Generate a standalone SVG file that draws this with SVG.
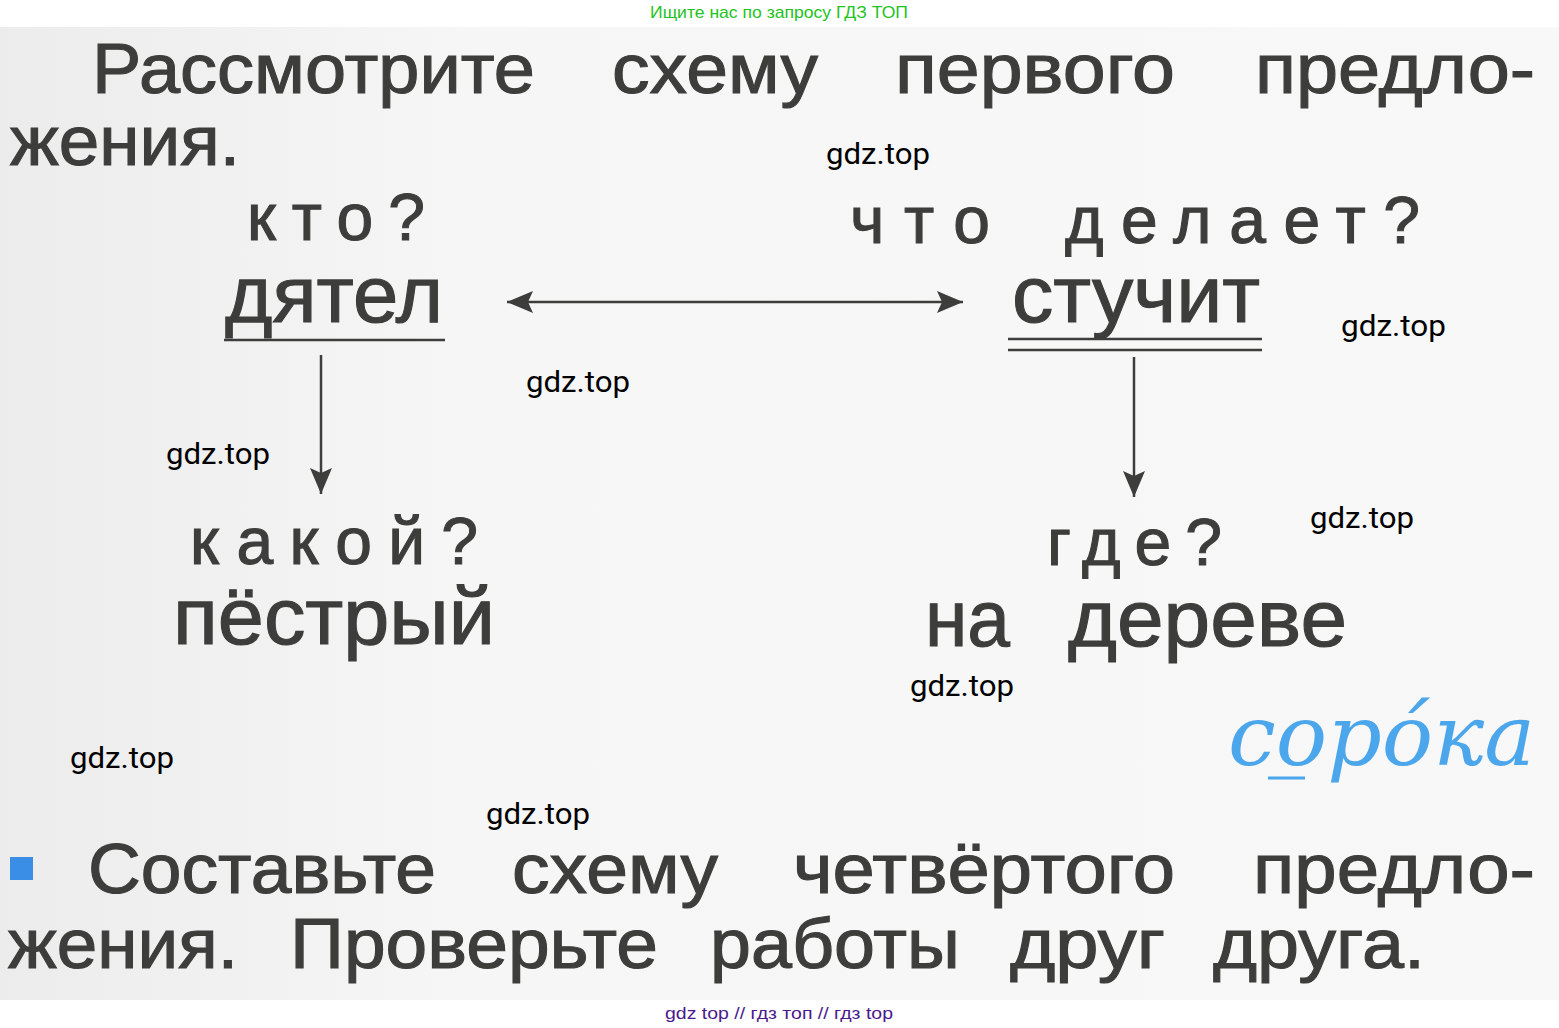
<svg xmlns="http://www.w3.org/2000/svg" width="1559" height="1028" viewBox="0 0 1559 1028">
  <style>
    .t { font-family: "Liberation Sans", Arial, sans-serif; fill: #3d3d3b; stroke: #3d3d3b; stroke-width: 1.1; }
    .big { font-size: 70px; }
    .word { font-size: 80px; }
    .q { font-size: 66px; }
    .wm { font-family: Roboto, "Liberation Sans", sans-serif; font-size: 30px; fill: #000; }
    .ln { stroke: #3d3d3b; stroke-width: 2.5; fill: none; }
  </style>
  <defs>
    <linearGradient id="page" x1="0" y1="0" x2="1" y2="0">
      <stop offset="0" stop-color="#ececec"/>
      <stop offset="0.3" stop-color="#f6f6f6"/>
      <stop offset="1" stop-color="#f8f8f8"/>
    </linearGradient>
    <marker id="ah" viewBox="0 0 26 22" refX="26" refY="11" markerWidth="26" markerHeight="22" markerUnits="userSpaceOnUse" orient="auto-start-reverse">
      <path d="M0,0 L26,11 L0,22 L5,11 Z" fill="#3d3d3b"/>
    </marker>
  </defs>
  <rect width="1559" height="1028" fill="#ffffff"/>
  <rect x="0" y="27" width="1559" height="973" fill="url(#page)"/>

  <text x="779" y="18" font-family="'Liberation Sans Narrow', 'Liberation Sans', sans-serif" font-size="17" fill="#22c322" text-anchor="middle" textLength="258" lengthAdjust="spacingAndGlyphs">Ищите нас по запросу ГДЗ ТОП</text>

  <g id="intro">
    <text class="t big" x="92" y="93" textLength="443" lengthAdjust="spacingAndGlyphs">Рассмотрите</text>
    <text class="t big" x="612" y="93" textLength="206" lengthAdjust="spacingAndGlyphs">схему</text>
    <text class="t big" x="895" y="93" textLength="280" lengthAdjust="spacingAndGlyphs">первого</text>
    <text class="t big" x="1255" y="93" textLength="280" lengthAdjust="spacingAndGlyphs">предло-</text>
    <text class="t big" x="10" y="165" textLength="230" lengthAdjust="spacingAndGlyphs">жения.</text>
  </g>

  <g id="node-subject">
    <text class="t q" x="247" y="240" textLength="178">кто?</text>
    <text class="t word" x="225" y="322" textLength="218" lengthAdjust="spacingAndGlyphs">дятел</text>
    <line class="ln" x1="224" y1="340" x2="445" y2="340"/>
  </g>

  <g id="node-predicate">
    <text class="t q" x="850" y="243" textLength="140">что</text>
    <text class="t q" x="1065" y="243" textLength="355">делает?</text>
    <text class="t word" x="1012" y="322" textLength="248" lengthAdjust="spacingAndGlyphs">стучит</text>
    <line class="ln" x1="1008" y1="339" x2="1262" y2="339"/>
    <line class="ln" x1="1008" y1="350" x2="1262" y2="350"/>
  </g>

  <g id="node-attribute">
    <text class="t q" x="190" y="564" textLength="288">какой?</text>
    <text class="t word" x="173" y="644" textLength="322" lengthAdjust="spacingAndGlyphs">пёстрый</text>
  </g>

  <g id="node-adverbial">
    <text class="t q" x="1047" y="565" textLength="175">где?</text>
    <text class="t word" x="925" y="646" textLength="85" lengthAdjust="spacingAndGlyphs">на</text>
    <text class="t word" x="1068" y="646" textLength="279" lengthAdjust="spacingAndGlyphs">дереве</text>
  </g>

  <g id="connectors">
    <line class="ln" x1="507" y1="302" x2="963" y2="302" marker-start="url(#ah)" marker-end="url(#ah)"/>
    <line class="ln" x1="321" y1="355" x2="321" y2="494" marker-end="url(#ah)"/>
    <line class="ln" x1="1134" y1="357" x2="1134" y2="497" marker-end="url(#ah)"/>
  </g>

  <g id="soroka">
    <text x="1228" y="765" font-family="'DejaVu Serif', 'Liberation Serif', serif" font-style="italic" font-size="84" fill="#4ba6ec" textLength="307" lengthAdjust="spacingAndGlyphs">сорóка</text>
    <line x1="1268" y1="778" x2="1305" y2="778" stroke="#4ba6ec" stroke-width="3"/>
  </g>

  <g id="task">
    <rect x="10" y="857" width="23" height="23" fill="#3a8ee6"/>
    <text class="t big" x="88" y="893" textLength="348" lengthAdjust="spacingAndGlyphs">Составьте</text>
    <text class="t big" x="512" y="893" textLength="206" lengthAdjust="spacingAndGlyphs">схему</text>
    <text class="t big" x="793" y="893" textLength="382" lengthAdjust="spacingAndGlyphs">четвёртого</text>
    <text class="t big" x="1253" y="893" textLength="282" lengthAdjust="spacingAndGlyphs">предло-</text>
    <text class="t big" x="8" y="968" textLength="230" lengthAdjust="spacingAndGlyphs">жения.</text>
    <text class="t big" x="290" y="968" textLength="368" lengthAdjust="spacingAndGlyphs">Проверьте</text>
    <text class="t big" x="710" y="968" textLength="250" lengthAdjust="spacingAndGlyphs">работы</text>
    <text class="t big" x="1010" y="968" textLength="155" lengthAdjust="spacingAndGlyphs">друг</text>
    <text class="t big" x="1213" y="968" textLength="212" lengthAdjust="spacingAndGlyphs">друга.</text>
  </g>

  <g id="watermarks">
    <text class="wm" x="826" y="164" textLength="104" lengthAdjust="spacingAndGlyphs">gdz.top</text>
    <text class="wm" x="1341" y="336" textLength="105" lengthAdjust="spacingAndGlyphs">gdz.top</text>
    <text class="wm" x="526" y="392" textLength="104" lengthAdjust="spacingAndGlyphs">gdz.top</text>
    <text class="wm" x="166" y="464" textLength="104" lengthAdjust="spacingAndGlyphs">gdz.top</text>
    <text class="wm" x="1310" y="528" textLength="104" lengthAdjust="spacingAndGlyphs">gdz.top</text>
    <text class="wm" x="910" y="696" textLength="104" lengthAdjust="spacingAndGlyphs">gdz.top</text>
    <text class="wm" x="70" y="768" textLength="104" lengthAdjust="spacingAndGlyphs">gdz.top</text>
    <text class="wm" x="486" y="824" textLength="104" lengthAdjust="spacingAndGlyphs">gdz.top</text>
  </g>

  <text x="779" y="1019" font-family="'Liberation Sans Narrow', 'Liberation Sans', sans-serif" font-size="17" fill="#4a1a8c" text-anchor="middle" textLength="228" lengthAdjust="spacingAndGlyphs">gdz top  //  гдз топ  //  гдз top</text>
</svg>
